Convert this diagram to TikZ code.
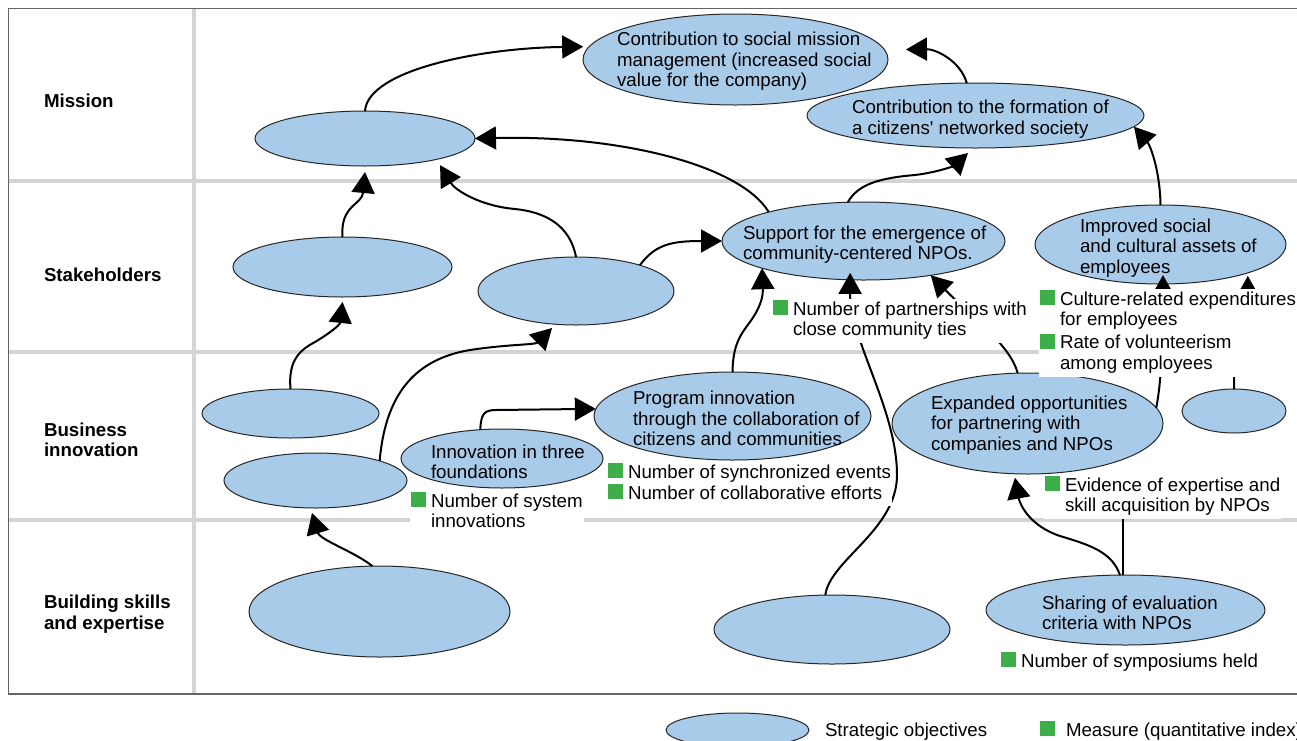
\documentclass[tikz,border=0pt]{standalone}
\usepackage{fontspec}
\setmainfont{Liberation Sans}
\usepackage{tikz}
\usetikzlibrary{arrows.meta,shapes.geometric}
\definecolor{objblue}{RGB}{169,203,234}
\definecolor{mgreen}{RGB}{62,174,73}
\definecolor{gridgray}{RGB}{212,212,215}
\definecolor{framegray}{RGB}{100,100,100}
\newcommand{\msq}{\textcolor{mgreen}{\rule{7.5pt}{7.5pt}}}

\begin{document}
\begin{tikzpicture}[x=0.5pt,y=-0.5pt]
\tikzstyle{every node}+=[inner sep=0pt, outer sep=0pt, font=\fontsize{9.35}{10.3}\selectfont]
\tikzstyle{obj}=[ellipse, draw=black!85, line width=0.5pt, fill=objblue]
\tikzstyle{objtext}=[anchor=west, align=left]
\tikzstyle{rowname}=[anchor=west, align=left, font=\fontsize{9.35}{10.3}\selectfont\bfseries]
\tikzstyle{measure}=[anchor=base west, fill=white, inner sep=0.5pt]
\tikzstyle{link}=[line width=1pt, -{Triangle[length=10.5pt,width=11.5pt]}]
\clip (0,0) rectangle (1297,740);
\fill [white] (0,0) rectangle (1297,740);
\draw [gridgray, line width=2pt] (194,8) -- (194,694);
\draw [gridgray, line width=2pt] (8,181) -- (1297,181);
\draw [gridgray, line width=2pt] (8,352) -- (1297,352);
\draw [gridgray, line width=2pt] (8,520) -- (1297,520);
\draw [framegray, line width=0.7pt] (1310,8.5) -- (8.5,8.5) -- (8.5,694) -- (1310,694);
\node [rowname] (rmis) at (44,101) {Mission};
\node [rowname] (rsta) at (44,275) {Stakeholders};
\node [rowname] (rbiz) at (44,440) {Business\\innovation};
\node [rowname] (rbld) at (44,614) {Building skills\\and expertise};
\node [obj, minimum width=152.5pt, minimum height=45.5pt] (soc) at (735.5,59.5) {};
\node [objtext] (soct) at (617,61.5) {Contribution to social mission\\management (increased social\\value for the company)};
\node [obj, minimum width=110pt, minimum height=27.5pt] (mis) at (365,138.5) {};
\node [obj, minimum width=168.5pt, minimum height=32.5pt] (form) at (975.5,115.5) {};
\node [objtext] (formt) at (852,119) {Contribution to the formation of\\a citizens\textquotesingle\ networked society};
\node [obj, minimum width=109.5pt, minimum height=30pt] (st1) at (342.5,267) {};
\node [obj, minimum width=98pt, minimum height=34pt] (st2) at (576,291) {};
\node [obj, minimum width=141.5pt, minimum height=39pt] (sup) at (863.5,241) {};
\node [objtext] (supt) at (743,244.5) {Support for the emergence of\\community-centered NPOs.};
\node [obj, minimum width=125.5pt, minimum height=39.5pt] (imp) at (1160.5,244.5) {};
\node [objtext] (impt) at (1080,248) {Improved social\\and cultural assets of\\employees};
\node [obj, minimum width=88.5pt, minimum height=24.5pt] (biz1) at (290.5,413.5) {};
\node [obj, minimum width=91.5pt, minimum height=27.5pt] (biz2) at (315.5,480.5) {};
\node [obj, minimum width=101pt, minimum height=29.5pt] (inn) at (502,458.5) {};
\node [objtext] (innt) at (431,462) {Innovation in three\\foundations};
\node [obj, minimum width=138.5pt, minimum height=44pt] (prog) at (732.5,416) {};
\node [objtext] (progt) at (633,418.5) {Program innovation\\through the collaboration of\\citizens and communities};
\node [obj, minimum width=135.5pt, minimum height=50.5pt] (exp) at (1027.5,423.5) {};
\node [objtext] (expt) at (931,425) {Expanded opportunities\\for partnering with\\companies and NPOs};
\node [obj, minimum width=52pt, minimum height=22pt] (sml) at (1234,411) {};
\node [obj, minimum width=130.5pt, minimum height=45.5pt] (bld1) at (379.5,611.5) {};
\node [obj, minimum width=118pt, minimum height=34.5pt] (bld2) at (832,629.5) {};
\node [obj, minimum width=139.5pt, minimum height=35pt] (shr) at (1125.5,610) {};
\node [objtext] (shrt) at (1042,613) {Sharing of evaluation\\criteria with NPOs};
\draw [link] (mis.north) .. controls (368,70) and (480,48) .. ([xshift=-3pt]soc.175);
\draw [link] (sup.163) .. controls (740,165) and (620,135) .. (mis.east);
\draw [link] (form.105) .. controls (960,60) and (935,49) .. ([xshift=9pt,yshift=5pt]soc.east);
\draw [link] (sup.112) .. controls (858,184) and (880,178) .. (915,175) .. controls (940,172) and (955,165) .. ([xshift=-3.75pt,yshift=-2.5pt]form.south);
\draw [link] (imp.north) .. controls (1160,170) and (1150,145) .. (form.-4);
\draw [link] (st1.north) .. controls (340,205) and (362,205) .. ([yshift=-3pt]mis.south);
\draw [link] (st2.north) .. controls (570,225) and (545,212) .. (515,209) .. controls (480,206) and (455,190) .. ([yshift=-3.25pt]mis.-15);
\draw [link] (st2.22) .. controls (655,245) and (670,241) .. (sup.west);
\draw [link] (biz1.north) .. controls (288,360) and (300,350) .. (315,342) .. controls (330,333) and (340,325) .. ([yshift=-2.5pt]st1.south);
\draw [link] (biz2.17) .. controls (385,400) and (410,360) .. (470,350) .. controls (510,344) and (535,345) .. ([yshift=-2pt]st2.-126);
\draw [link] (prog.north) .. controls (733,345) and (740,335) .. (750,322) .. controls (762,305) and (763,295) .. (sup.195);
\draw [link] (inn.127) .. controls (481,414) and (484,410) .. (496,410) -- (prog.177);
\draw [link] (bld2.101) .. controls (830,560) and (897,530) .. (897,475) .. controls (897,410) and (850,340) .. ([yshift=3.5pt]sup.-109);
\draw [link] (exp.101) .. controls (1010,345) and (975,320) .. (sup.-27);
\draw [link] (exp.7) .. controls (1162,380) and (1163,330) .. ([xshift=1.25pt,yshift=4.5pt]imp.south);
\draw [link] (sml.north) .. controls (1234,330) and (1248,320) .. ([yshift=-1.5pt]imp.-18);
\draw [link] (bld1.99) .. controls (355,552) and (320,540) .. ([xshift=-1.75pt,yshift=-2.5pt]biz2.south);
\draw [link] (shr.99) .. controls (1112,552) and (1090,545) .. (1060,536) .. controls (1030,526) and (1020,505) .. ([yshift=-2pt]exp.-104);
\node [measure] (mpart) at (772,315) {\begin{tabular}[t]{@{}l@{\hspace{2.5pt}}l@{}}\msq & Number of partnerships with\\ & close community ties\end{tabular}};
\node [measure] (mcult) at (1039,305) {\begin{tabular}[t]{@{}l@{\hspace{2.5pt}}l@{}}\msq & Culture-related expenditures\\ & for employees\\[1pt] \msq & Rate of volunteerism\\ & among employees\end{tabular}};
\node [measure] (msync) at (607,478) {\begin{tabular}[t]{@{}l@{\hspace{2.5pt}}l@{}}\msq & Number of synchronized events\\ \msq & Number of collaborative efforts\end{tabular}};
\node [measure] (msys) at (410,507) {\begin{tabular}[t]{@{}l@{\hspace{2.5pt}}l@{}}\msq & Number of system\\ & innovations\end{tabular}};
\node [measure] (mevid) at (1044,491) {\begin{tabular}[t]{@{}l@{\hspace{2.5pt}}l@{}}\msq & Evidence of expertise and\\ & skill acquisition by NPOs\end{tabular}};
\node [measure] (msymp) at (1000,667) {\begin{tabular}[t]{@{}l@{\hspace{2.5pt}}l@{}}\msq & Number of symposiums held\end{tabular}};
\coordinate (shtop) at ([xshift=-1.5pt]shr.north);
\draw [line width=1pt] (shtop) -- (shtop |- mevid.south);
\node [obj, minimum width=71.5pt, minimum height=17pt] (legobj) at (737.5,730) {};
\node [anchor=base west] (legobjt) at (825,736) {Strategic objectives};
\node [anchor=base west] (legmeas) at (1040,736) {\msq\hspace{5.5pt}Measure (quantitative index)};
\end{tikzpicture}
\end{document}
